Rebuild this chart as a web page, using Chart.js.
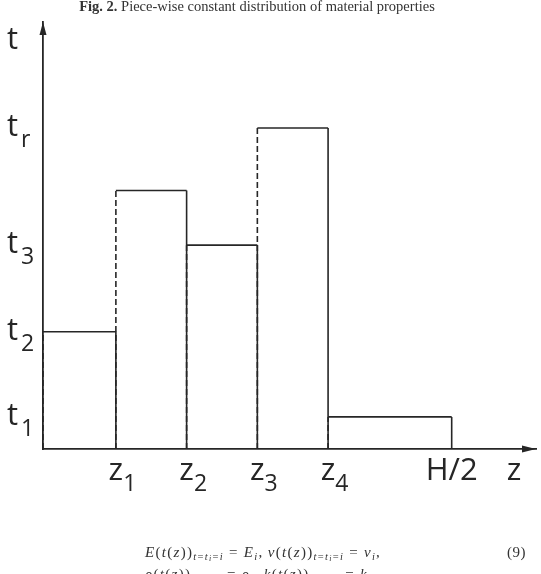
<!DOCTYPE html>
<html>
<head>
<meta charset="utf-8">
<script src="https://cdn.jsdelivr.net/npm/chart.js@4.4.0/dist/chart.umd.min.js"></script>
<style>
  html, body { margin:0; padding:0; background:#fff; overflow:hidden; }
  #wrap { position:relative; width:541px; height:574px; overflow:hidden; }
  .cap { position:absolute; left:0; top:-2px; width:514px; text-align:center;
         font-family:"Liberation Serif","DejaVu Serif",serif; font-size:14.5px; color:#333; }
  .eq { position:absolute; font-family:"Liberation Serif","DejaVu Serif",serif; font-size:15px; color:#333;
        white-space:nowrap; letter-spacing:1.3px; }
  .eq sub { font-size:10.5px; vertical-align:-3px; }
  .eq sub sub { font-size:8px; vertical-align:-1px; }
  .eq .rel { padding:0 5px; }
  .eq.num { letter-spacing:0.5px; }
</style>
</head>
<body>
<div id="wrap">
  <canvas id="stepChart" width="541" height="574"></canvas>
  <div class="cap"><b>Fig. 2.</b> Piece-wise constant distribution of material properties</div>
  <div class="eq" style="left:145px; top:544px;"><i>E</i>(<i>t</i>(<i>z</i>))<sub><i>t</i>=<i>t<sub>i</sub></i>=<i>i</i></sub><span class="rel">=</span><i>E<sub>i</sub></i>,&thinsp;<i>ν</i>(<i>t</i>(<i>z</i>))<sub><i>t</i>=<i>t<sub>i</sub></i>=<i>i</i></sub><span class="rel">=</span><i>ν<sub>i</sub></i>,</div>
  <div class="eq num" style="left:507px; top:544px;">(9)</div>
  <div class="eq" style="left:145px; top:566px;"><i>ρ</i>(<i>t</i>(<i>z</i>))<sub><i>t</i>=<i>t<sub>i</sub></i>=<i>i</i></sub><span class="rel">=</span><i>ρ<sub>i</sub></i>,&thinsp;<i>k</i>(<i>t</i>(<i>z</i>))<sub><i>t</i>=<i>t<sub>i</sub></i>=<i>i</i></sub><span class="rel">=</span><i>k<sub>i</sub></i>,</div>
</div>
<script>
// layer boundaries along z (0 = axis) and the constant level in each layer
const zEdges = [0, 1.02, 2.01, 3.0, 3.99, 5.72];
const levels = [3.65, 8.05, 6.35, 10, 1];

// tick labels: z-axis at the edges, t-axis at some of the levels
const zTickValues = [1.02, 2.01, 3.0, 3.99, 5.72];
const zTickNames = [["z","1"], ["z","2"], ["z","3"], ["z","4"], ["H/2",""]];
const tTickValues = [1, 3.65, 6.35, 10];
const tTickNames = [["t","1"], ["t","2"], ["t","3"], ["t","r"]];

const zMax = 6.9;
const tMax = 13.3;
const ink = "#262626";

// one rectangle per layer: up, across, down
const datasets = levels.map((h, i) => ({
    data: [
        {x: zEdges[i], y: 0},
        {x: zEdges[i], y: h},
        {x: zEdges[i+1], y: h},
        {x: zEdges[i+1], y: 0}
    ],
    borderColor: ink,
    borderWidth: 1.6,
    pointRadius: 0,
    tension: 0,
    fill: false,
    clip: false,
    segment: {
        borderDash: c => c.p0.parsed.x === c.p1.parsed.x ? [6, 3] : []
    }
}));

function subText(ctx, base, sub, x, y, gap, center){
    ctx.font = "31px 'Open Sans'";
    const w = ctx.measureText(base).width;
    let x0 = center ? x - w/2 : x;
    ctx.fillText(base, x0, y);
    if(sub){
        ctx.font = "23px 'Open Sans'";
        ctx.fillText(sub, x0 + w + gap, y + 11);
    }
}

const labelPlugin = {
    id: "labels",
    afterDraw(chart){
        const ctx = chart.ctx;
        const xs = chart.scales.x, ys = chart.scales.y;
        const left = xs.getPixelForValue(0), bottom = ys.getPixelForValue(0);
        const right = xs.getPixelForValue(zMax), top = ys.getPixelForValue(tMax);
        ctx.save();
        ctx.fillStyle = ink;
        // arrow heads
        ctx.beginPath();
        ctx.moveTo(left, top);
        ctx.lineTo(left - 3.5, top + 13);
        ctx.lineTo(left + 3.5, top + 13);
        ctx.closePath();
        ctx.fill();
        ctx.beginPath();
        ctx.moveTo(right, bottom);
        ctx.lineTo(right - 14, bottom - 3.5);
        ctx.lineTo(right - 14, bottom + 3.5);
        ctx.closePath();
        ctx.fill();

        ctx.textBaseline = "alphabetic";
        zTickValues.forEach((v, i) => {
            const n = zTickNames[i];
            subText(ctx, n[0], n[1], xs.getPixelForValue(v), bottom + 31, 0, true);
        });
        tTickValues.forEach((v, i) => {
            const n = tTickNames[i];
            subText(ctx, n[0], n[1], 7, ys.getPixelForValue(v) + 8, 3, false);
        });
        // axis names
        subText(ctx, "z", "", 514, bottom + 31, 0, true);
        subText(ctx, "t", "", 7, 49, 0, false);
        ctx.restore();
    }
};

new Chart(document.getElementById("stepChart").getContext("2d"), {
    type: "line",
    data: { datasets },
    options: {
        responsive: false,
        animation: false,
        devicePixelRatio: 1,
        layout: { padding: { left: 43, top: 22, right: 5, bottom: 125 } },
        plugins: { legend: {display:false}, tooltip: {enabled:false} },
        scales: {
            x: {
                type: "linear", min: 0, max: zMax,
                grid: {display:false},
                ticks: {display:false},
                border: {display:true, color: ink, width: 1.8},
                afterFit: s => { s.height = 0; }
            },
            y: {
                type: "linear", min: 0, max: tMax,
                grid: {display:false},
                ticks: {display:false},
                border: {display:true, color: ink, width: 1.8},
                afterFit: s => { s.width = 0; }
            }
        }
    },
    plugins: [labelPlugin]
});
</script>
</body>
</html>
